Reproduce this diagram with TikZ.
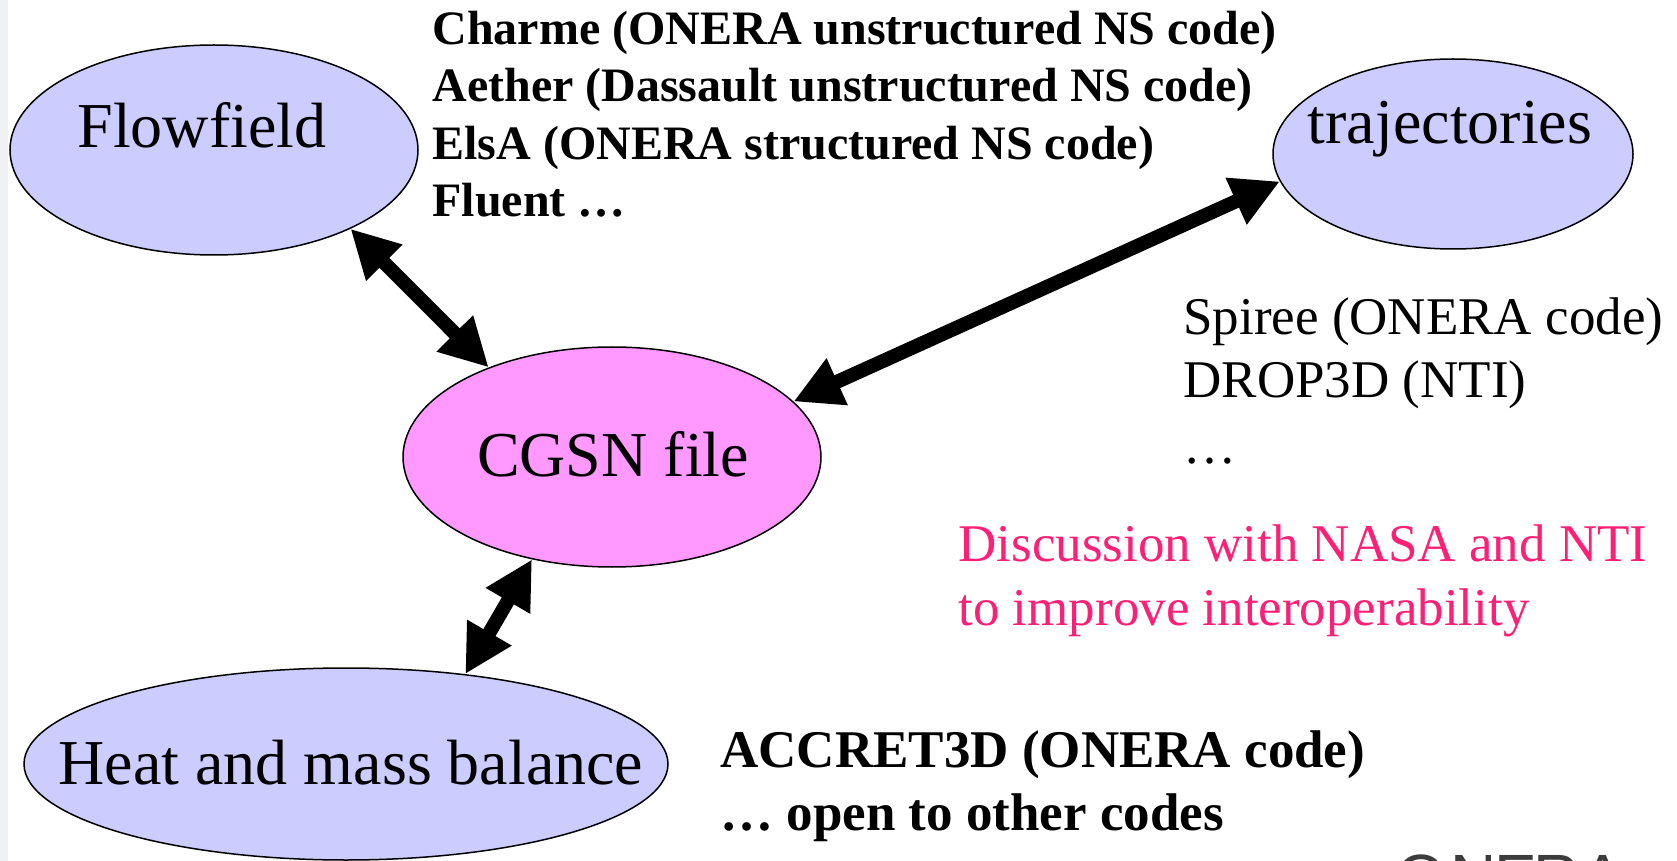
\documentclass[tikz,border=0pt]{standalone}
\usepackage{fontspec}
\setmainfont{Liberation Serif}
\setsansfont{Liberation Sans}
\usetikzlibrary{shapes.geometric,arrows.meta}
\definecolor{lav}{HTML}{CCCCFF}
\definecolor{pnk}{HTML}{FF99FF}
\definecolor{rose}{HTML}{FF1F77}
\definecolor{edgegray}{RGB}{240,241,245}
\definecolor{logogray}{RGB}{60,60,60}
\begin{document}
\begin{tikzpicture}[x=0.5pt,y=-0.5pt,
  blob/.style={ellipse,draw=black,line width=0.75pt,inner sep=0pt},
  bigtxt/.style={font=\fontsize{32}{38}\selectfont,anchor=base,inner sep=0pt},
  boldsm/.style={font=\bfseries\fontsize{24}{28}\selectfont,anchor=base west,inner sep=0pt},
  boldlg/.style={font=\bfseries\fontsize{26.5}{31}\selectfont,anchor=base west,inner sep=0pt},
  regtxt/.style={font=\fontsize{26.5}{31}\selectfont,anchor=base west,inner sep=0pt},
  pinktxt/.style={regtxt,text=rose},
  logo/.style={font=\sffamily\fontsize{32}{36}\selectfont,anchor=base,inner sep=0pt,text=logogray},
  link/.style={line width=7pt,arrows={Triangle[length=24pt,width=24pt]-Triangle[length=24pt,width=24pt]}}
]
\useasboundingbox (0,0) rectangle (1677,861);
\fill[white] (0,0) rectangle (1677,861);
\fill[edgegray] (0,0) rectangle (8,861);

% ellipses
\node[blob,fill=lav,minimum width=204pt,minimum height=105pt] (ff) at (214,150) {};
\node[blob,fill=lav,minimum width=180pt,minimum height=95pt] (tr) at (1453,154) {};
\node[blob,fill=pnk,minimum width=209pt,minimum height=110pt] (cg) at (612,457) {};
\node[blob,fill=lav,minimum width=322pt,minimum height=96pt] (hm) at (346,764) {};

% ellipse labels
\node[bigtxt] (ffl) at (202,148) {Flowfield};
\node[bigtxt] (trl) at (1450,144) {trajectories};
\node[bigtxt] (cgl) at (613,476) {CGSN file};
\node[bigtxt] (hml) at (351,784) {Heat and mass balance};

% connectors
\draw[link] (ff.-30) -- (cg.144);
\draw[link] (tr.189) -- (cg.17);
\draw[link] (cg.-128) -- (hm.37);

% top bold block
\node[boldsm] (t1) at (432,45) {Charme (ONERA unstructured NS code)};
\node[boldsm] (t2) at (432,102) {Aether (Dassault unstructured NS code)};
\node[boldsm] (t3) at (432,160) {ElsA (ONERA structured NS code)};
\node[boldsm] (t4) at (432,217) {Fluent …};

% trajectory codes
\node[regtxt] (s1) at (1183,335) {Spiree (ONERA code)};
\node[regtxt] (s2) at (1183,398) {DROP3D (NTI)};
\node[regtxt] (s3) at (1183,463) {…};

% pink remark
\node[pinktxt] (p1) at (958,561) {Discussion with NASA and NTI};
\node[pinktxt] (p2) at (958,625) {to improve interoperability};

% bottom bold block
\node[boldlg] (b1) at (720,767) {ACCRET3D (ONERA code)};
\node[boldlg] (b2) at (720,830) {… open to other codes};

% partially visible logo
\begin{scope}
\clip (0,0) rectangle (1677,861);
\node[logo] (lo) at (1421,899) {O};
\node[logo] (ln) at (1474,899) {N};
\node[logo] (le) at (1516,899) {E};
\node[logo] (lr) at (1557,899) {R};
\node[logo] (la) at (1603,899) {A};
\end{scope}
\end{tikzpicture}
\end{document}
